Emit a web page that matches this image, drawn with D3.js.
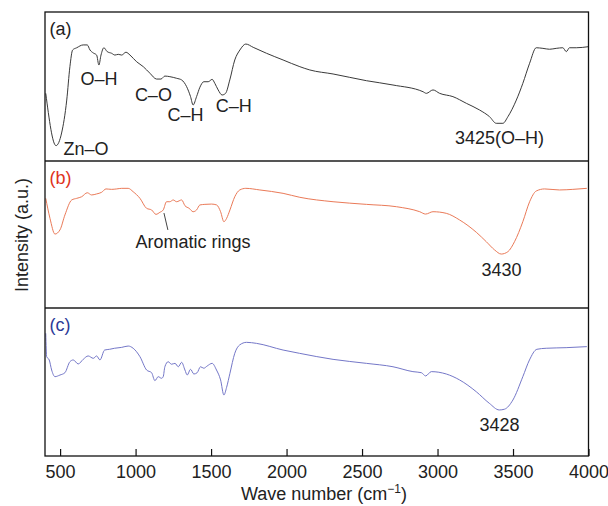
<!DOCTYPE html>
<html>
<head>
<meta charset="utf-8">
<script src="https://cdn.jsdelivr.net/npm/d3@7"></script>
<style>
  body { margin: 0; background: #fff; }
  text { font-family: "Liberation Sans", Arial, sans-serif; }
</style>
</head>
<body>
<div id="chart"></div>
<script>
// spectra: [wave number, intensity (a.u., 0-100 inside each panel)]
var specA = [[405,45.4],[473,10.3],[510,18.8],[544,40.9],[565,63.3],[583,74.5],[610,76.0],[653,77.9],[680,77.9],[698,74.5],[720,72.5],[742,71.1],[757,64.4],[771,71.1],[790,76.0],[812,73.4],[841,72.3],[863,71.1],[885,71.6],[908,71.1],[936,73.0],[963,71.1],[1007,66.6],[1051,63.3],[1095,58.9],[1139,55.0],[1168,55.0],[1194,57.0],[1227,56.6],[1272,55.5],[1305,54.4],[1338,49.9],[1364,43.2],[1381,37.6],[1404,43.2],[1426,49.5],[1452,53.2],[1481,53.2],[1507,54.8],[1525,52.1],[1547,47.7],[1573,44.3],[1596,45.4],[1624,54.4],[1657,67.8],[1691,74.5],[1730,78.5],[1779,76.3],[1867,72.3],[1977,67.8],[2088,63.3],[2154,61.1],[2308,58.4],[2529,53.9],[2705,51.0],[2904,46.5],[2926,45.4],[2970,47.7],[3014,45.4],[3102,43.2],[3191,38.7],[3279,34.2],[3345,29.7],[3389,25.3],[3433,25.3],[3466,29.7],[3522,40.9],[3565,52.1],[3610,65.6],[3654,76.0],[3698,75.6],[3742,75.0],[3786,75.6],[3830,76.0],[3853,73.4],[3874,76.0],[3919,76.0],[3998,76.7]];
var specB = [[405,74.6],[433,61.0],[466,50.3],[499,53.1],[532,63.3],[577,73.5],[610,74.6],[643,75.7],[680,78.4],[709,76.9],[742,77.6],[775,78.7],[804,81.0],[841,80.7],[875,81.0],[908,81.4],[951,81.4],[984,79.1],[1029,74.6],[1073,67.8],[1106,66.7],[1135,63.7],[1161,65.1],[1183,66.7],[1205,72.3],[1227,72.3],[1249,73.5],[1272,72.3],[1305,73.5],[1327,69.6],[1355,67.8],[1381,65.5],[1404,66.7],[1426,70.1],[1459,70.5],[1503,70.7],[1537,70.1],[1563,65.5],[1585,58.7],[1603,61.0],[1625,66.7],[1657,75.7],[1690,80.3],[1730,81.4],[1823,80.3],[1977,78.0],[2088,75.3],[2308,72.3],[2529,70.5],[2728,68.9],[2882,65.5],[2921,63.9],[2970,65.5],[3058,64.4],[3146,59.9],[3257,51.5],[3323,45.1],[3378,39.5],[3422,36.7],[3466,38.3],[3510,45.1],[3565,58.7],[3610,72.3],[3654,79.6],[3709,81.0],[3808,80.3],[3896,80.7],[3989,81.4]];
var specC = [[405,82.9],[411,67.1],[428,64.9],[444,58.1],[466,53.6],[499,54.7],[532,56.3],[565,63.7],[587,64.9],[620,62.2],[653,65.3],[686,67.6],[720,66.0],[742,67.6],[764,64.9],[795,71.6],[828,72.1],[861,72.8],[908,73.4],[951,74.3],[984,72.8],[1029,67.1],[1073,58.1],[1106,56.3],[1128,50.9],[1150,53.6],[1172,52.5],[1183,53.6],[1194,60.3],[1216,63.7],[1238,62.0],[1261,62.6],[1283,60.3],[1305,63.3],[1327,58.1],[1342,54.7],[1364,58.6],[1386,55.4],[1408,56.3],[1430,60.3],[1452,59.3],[1474,60.8],[1507,62.6],[1536,58.1],[1563,51.4],[1585,41.2],[1603,46.4],[1625,55.9],[1657,69.4],[1689,75.0],[1735,76.8],[1801,76.1],[1977,71.6],[2085,69.4],[2308,65.3],[2529,62.6],[2705,60.3],[2837,57.0],[2893,56.3],[2921,54.1],[2959,57.0],[3058,55.4],[3146,51.4],[3257,43.4],[3343,35.6],[3409,31.1],[3443,31.6],[3499,37.8],[3565,53.6],[3609,64.9],[3658,72.1],[3720,72.8],[3852,73.2],[3989,73.9]];

var xTicks = [500, 1000, 1500, 2000, 2500, 3000, 3500, 4000];
var panelNames = ["(a)", "(b)", "(c)"];

// peak labels: [panel, wave number, intensity, text]
var peakLabels = [
    [0, 757, 51.0, "O–H"],
    [0, 1118, 40.3, "C–O"],
    [0, 1330, 26.8, "C–H"],
    [0, 1651, 32.9, "C–H"],
    [0, 671, 4.0, "Zn–O"],
    [0, 3411, 11.4, "3425(O–H)"],
    [1, 1380, 40.8, "Aromatic rings"],
    [1, 3424, 21.8, "3430"],
    [2, 3411, 16.9, "3428"]
];

var svgWidth = 608;
var svgHeight = 506;
var left = 45, right = 588.5;
var panels = [
    { top: 12, bottom: 161, line: "#3a3a3a", label: "#222" },
    { top: 161, bottom: 308, line: "#ea7a58", label: "#e0321c" },
    { top: 308, bottom: 456, line: "#7477c8", label: "#2c3a98" }
];

var svg = d3.select("#chart")
    .append("svg")
    .attr("width", svgWidth)
    .attr("height", svgHeight);

var x = d3.scaleLinear().domain([400, 4000]).range([left, right]);

panels.forEach(function (p) {
    p.y = d3.scaleLinear().domain([0, 100]).range([p.bottom, p.top]);
});

var specs = [specA, specB, specC];

// curves
specs.forEach(function (spec, i) {
    var p = panels[i];
    var line = d3.line()
        .x(d => x(d[0]))
        .y(d => p.y(d[1]))
        .curve(d3.curveMonotoneX);
    svg.append("path")
        .datum(spec)
        .attr("fill", "none")
        .attr("stroke", p.line)
        .attr("stroke-width", 1)
        .attr("d", line);

    svg.append("text")
        .attr("x", x(430))
        .attr("y", p.top + 23)
        .attr("font-size", 18)
        .attr("fill", p.label)
        .text(panelNames[i]);
});

// separators between panels
[panels[0].bottom, panels[1].bottom].forEach(function (yy) {
    svg.append("line")
        .attr("x1", left).attr("x2", right)
        .attr("y1", yy).attr("y2", yy)
        .attr("stroke", "#555")
        .attr("stroke-width", 2);
});

// frame
svg.append("rect")
    .attr("x", left)
    .attr("y", panels[0].top)
    .attr("width", right - left)
    .attr("height", panels[2].bottom - panels[0].top)
    .attr("fill", "none")
    .attr("stroke", "#111")
    .attr("stroke-width", 1.3);

// bottom axis, ticks pointing in
var bottomAxis = d3.axisBottom(x)
    .tickValues(xTicks)
    .tickSizeInner(-7)
    .tickSizeOuter(0)
    .tickPadding(9)
    .tickFormat(d3.format("d"));

var ax = svg.append("g")
    .attr("transform", `translate(0, ${panels[2].bottom})`)
    .call(bottomAxis);
ax.select(".domain").remove();
ax.selectAll(".tick line").attr("stroke", "#111").attr("stroke-width", 1.2);
ax.selectAll(".tick text")
    .attr("font-size", 18)
    .attr("font-family", "Liberation Sans, Arial, sans-serif")
    .attr("fill", "#222");

// peak annotations
peakLabels.forEach(function (d) {
    var p = panels[d[0]];
    svg.append("text")
        .attr("x", x(d[1]))
        .attr("y", p.y(d[2]))
        .attr("text-anchor", "middle")
        .attr("font-size", 18)
        .attr("fill", "#222")
        .text(d[3]);
});

// pointer for aromatic rings
svg.append("line")
    .attr("x1", x(1188)).attr("y1", panels[1].y(64.6))
    .attr("x2", x(1214)).attr("y2", panels[1].y(53.1))
    .attr("stroke", "#444")
    .attr("stroke-width", 1);

// axis titles
var xTitle = svg.append("text")
    .attr("x", 324)
    .attr("y", 500)
    .attr("text-anchor", "middle")
    .attr("font-size", 18)
    .attr("fill", "#222");
xTitle.append("tspan").text("Wave number (cm");
xTitle.append("tspan").attr("dy", -7).attr("font-size", 12).text("−1");
xTitle.append("tspan").attr("dy", 7).text(")");

svg.append("text")
    .attr("transform", "rotate(-90)")
    .attr("x", -235)
    .attr("y", 28)
    .attr("text-anchor", "middle")
    .attr("font-size", 18)
    .attr("fill", "#222")
    .text("Intensity (a.u.)");
</script>
</body>
</html>
